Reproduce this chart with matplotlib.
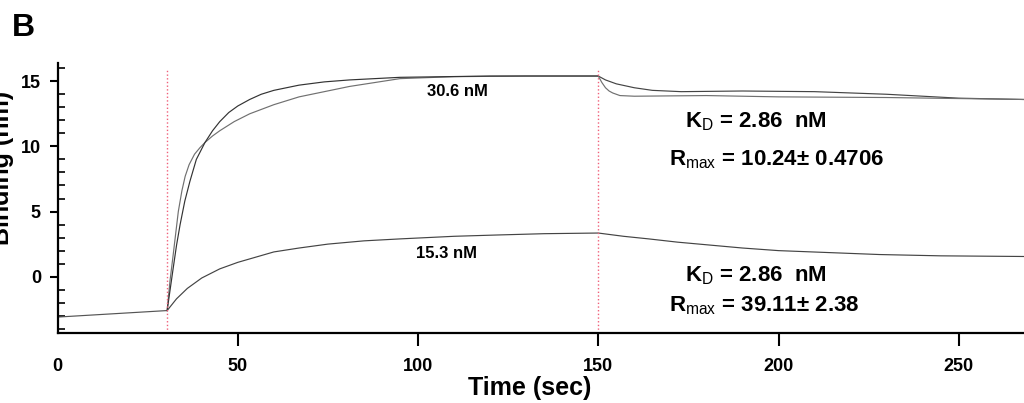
import matplotlib
matplotlib.use("Agg")
import matplotlib.pyplot as plt
from matplotlib.ticker import MultipleLocator

plt.rcParams['font.family'] = ['Liberation Sans', 'DejaVu Sans']
plt.rcParams['mathtext.fontset'] = 'custom'
plt.rcParams['mathtext.rm'] = 'Liberation Sans'
plt.rcParams['mathtext.bf'] = 'Liberation Sans:bold'

# baseline before injection
t_base = [0, 30.4]
y_base = [-3.1, -2.6]

# 30.6 nM association, measured and fitted
t_hi = [30.4, 31.2, 32, 33.5, 34.5, 35.4, 36.5, 38, 39.5, 40.9, 43, 45, 49, 53.3, 60, 67, 74, 81, 88, 95, 110, 130, 150]
y_hi_data = [-2.6, -0.3, 1.5, 5.0, 6.6, 7.7, 8.6, 9.4, 9.9, 10.3, 10.8, 11.2, 11.9, 12.5, 13.2, 13.8, 14.2, 14.6, 14.9, 15.2, 15.35, 15.4, 15.4]
t_hi_fit = [30.4, 32, 33, 34, 35.3, 36.7, 38.5, 40.9, 43, 45, 47.5, 50, 53.3, 56.5, 60, 67, 74, 81, 95, 120, 150]
y_hi_fit = [-2.6, 0.5, 2.4, 4.0, 5.8, 7.3, 9.0, 10.3, 11.2, 11.9, 12.6, 13.1, 13.6, 14.0, 14.3, 14.7, 14.95, 15.1, 15.3, 15.4, 15.4]

# 30.6 nM dissociation
t_off_slow = [150, 152, 155, 160, 165, 173, 190, 210, 230, 250, 268]
y_off_slow = [15.4, 15.1, 14.8, 14.5, 14.3, 14.2, 14.25, 14.2, 14.0, 13.7, 13.6]
t_off_fast = [150, 151, 152, 153, 154, 156, 160, 180, 200, 230, 268]
y_off_fast = [15.4, 14.9, 14.5, 14.25, 14.1, 13.9, 13.85, 13.9, 13.8, 13.75, 13.6]

# 15.3 nM
t_lo = [30.4, 33, 36, 40, 45, 50, 55, 60, 67, 75, 85, 95, 110, 122, 135, 150,
        157, 164, 172, 182, 190, 200, 214, 228, 245, 268]
y_lo = [-2.6, -1.7, -0.9, -0.1, 0.6, 1.1, 1.5, 1.9, 2.2, 2.5, 2.75, 2.9, 3.1, 3.2, 3.3, 3.35,
        3.1, 2.9, 2.65, 2.4, 2.2, 2.0, 1.85, 1.7, 1.6, 1.55]

inject_times = [30.4, 150]

fig = plt.figure(figsize=(10.24, 4.03), dpi=100)
ax = fig.add_axes([0.0562, 0.1744, 1 - 0.0562, 0.8437 - 0.1744])

ax.plot(t_base, y_base, color='#555555', lw=0.85)
ax.plot(t_hi, y_hi_data, color='#707070', lw=0.85)
ax.plot(t_hi_fit, y_hi_fit, color='#333333', lw=0.85)
ax.plot(t_off_slow, y_off_slow, color='#444444', lw=0.85)
ax.plot(t_off_fast, y_off_fast, color='#707070', lw=0.85)
ax.plot(t_lo, y_lo, color='#444444', lw=0.85)
ax.vlines(inject_times, -4.3, 16.0, colors='#f0607a', linestyles=':', lw=1.0)

ax.set_xlim(0, 268.1)
ax.set_ylim(-4.3, 16.4)
for s in ['top', 'right']:
    ax.spines[s].set_visible(False)
for s in ['left', 'bottom']:
    ax.spines[s].set_linewidth(1.6)

ax.set_xticks([0, 50, 100, 150, 200, 250])
ax.set_yticks([0, 5, 10, 15])
ax.yaxis.set_minor_locator(MultipleLocator(1))
ax.tick_params(axis='x', direction='out', length=9, width=1.5, pad=9, labelsize=13)
ax.tick_params(axis='y', which='major', direction='out', length=6, width=1.5, pad=6, labelsize=13)
ax.tick_params(axis='y', which='minor', direction='in', length=5, width=1.2)
ax.xaxis.get_major_ticks()[0].tick1line.set_visible(False)
for lab in ax.get_xticklabels() + ax.get_yticklabels():
    lab.set_fontweight('bold')

ax.text(110.8, 14.2, '30.6 nM', fontsize=12, fontweight='bold', ha='center', va='center')
ax.text(108, 1.8, '15.3 nM', fontsize=12, fontweight='bold', ha='center', va='center')
ax.text(174.0, 11.9, r'K$_{\mathrm{D}}$ = 2.86  nM', fontsize=16, fontweight='bold', ha='left', va='center')
ax.text(169.6, 9.0, r'R$_{\mathrm{max}}$ = 10.24± 0.4706', fontsize=16, fontweight='bold', ha='left', va='center')
ax.text(174.0, 0.1, r'K$_{\mathrm{D}}$ = 2.86  nM', fontsize=16, fontweight='bold', ha='left', va='center')
ax.text(169.6, -2.25, r'R$_{\mathrm{max}}$ = 39.11± 2.38', fontsize=16, fontweight='bold', ha='left', va='center')

fig.text(530 / 1024, 0.037, 'Time (sec)', fontsize=18, fontweight='bold', ha='center', va='center')
# y label sits partly off the left edge, as in the source figure
fig.text(14 / 1024, 0.583, 'Binding (nm)', fontsize=18, fontweight='bold', rotation=90,
         ha='right', va='center')
fig.text(0.012, 0.93, 'B', fontsize=23, fontweight='bold', ha='left', va='center')

fig.savefig('out.png', dpi=100)
